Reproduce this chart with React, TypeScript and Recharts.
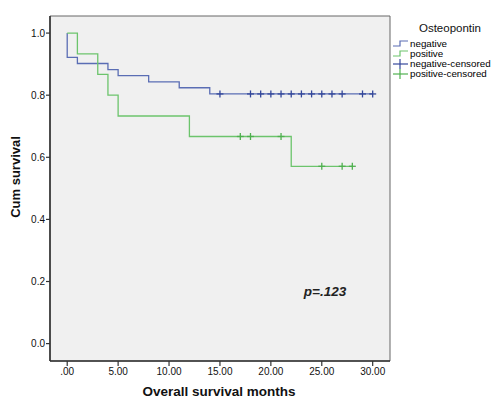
import {
  ComposedChart,
  Line,
  Scatter,
  XAxis,
  YAxis,
  ReferenceArea,
} from "recharts";

// Kaplan-Meier steps (time in months, cumulative survival)
const negTimes = [0, 0, 1, 4, 5, 8, 11, 14, 30];
const negSurv = [1, 0.922, 0.902, 0.882, 0.863, 0.843, 0.824, 0.804, 0.804];
const posTimes = [0, 1, 3, 4, 5, 12, 22, 28];
const posSurv = [1, 0.933, 0.867, 0.8, 0.733, 0.667, 0.571, 0.571];

// censored observations
const negCensTimes = [15, 18, 19, 20, 21, 22, 23, 24, 25, 26, 27, 29, 30];
const negCensSurv = [0.804, 0.804, 0.804, 0.804, 0.804, 0.804, 0.804, 0.804, 0.804, 0.804, 0.804, 0.804, 0.804];
const posCensTimes = [17, 18, 21, 25, 27, 28];
const posCensSurv = [0.667, 0.667, 0.667, 0.571, 0.571, 0.571];

const xTicks = [0, 5, 10, 15, 20, 25, 30];
const yTicks = [0, 0.2, 0.4, 0.6, 0.8, 1.0];
const legendLabels = ["negative", "positive", "negative-censored", "positive-censored"];

const X_DOMAIN: [number, number] = [-1.69, 31.7];
const Y_DOMAIN: [number, number] = [-0.056, 1.055];

const BLUE = "#5a6db4";
const BLUE_DARK = "#34479a";
const GREEN = "#6cc46c";
const GREEN_DARK = "#4fb04f";

const zip = (t: number[], s: number[]) => t.map((v, i) => ({ t: v, s: s[i] }));

const negData = zip(negTimes, negSurv);
const posData = zip(posTimes, posSurv);
const negCens = zip(negCensTimes, negCensSurv);
const posCens = zip(posCensTimes, posCensSurv);

const font = "'Liberation Sans', Arial, sans-serif";

function plusShape(color: string) {
  return (props: any) => {
    const { cx, cy } = props;
    return (
      <g stroke={color} strokeWidth={1.3}>
        <line x1={cx} x2={cx} y1={cy - 3.5} y2={cy + 3.5} />
        <line x1={cx - 3.5} x2={cx + 3.5} y1={cy} y2={cy} />
      </g>
    );
  };
}

const fmtX = (v: number) => (v === 0 ? ".00" : v.toFixed(2));
const fmtY = (v: number) => v.toFixed(1);

function LegendIcon({ color, step }: { color: string; step: boolean }) {
  return (
    <svg width={17} height={10} style={{ display: "block" }}>
      {step ? (
        <polyline points="1,7 8,7 8,2 16,2" fill="none" stroke={color} strokeWidth={1.2} />
      ) : (
        <g stroke={color} strokeWidth={1.2}>
          <line x1={1} x2={16} y1={5} y2={5} />
          <line x1={8} x2={8} y1={0} y2={10} />
        </g>
      )}
    </svg>
  );
}

export default function App() {
  const legendColors = [BLUE, GREEN, BLUE_DARK, GREEN_DARK];
  return (
    <div style={{ position: "absolute", left: 0, top: 0, width: 500, height: 416, background: "#fff", fontFamily: font }}>
      <ComposedChart width={500} height={416} margin={{ top: 16, right: 110, bottom: 25, left: 0 }}>
        <ReferenceArea
          x1={X_DOMAIN[0]}
          x2={X_DOMAIN[1]}
          y1={Y_DOMAIN[0]}
          y2={Y_DOMAIN[1]}
          fill="#f0f0f0"
          fillOpacity={1}
          stroke="#666"
          strokeWidth={1}
        />
        <XAxis
          type="number"
          dataKey="t"
          domain={X_DOMAIN}
          allowDataOverflow
          ticks={xTicks}
          tickFormatter={fmtX}
          height={30}
          tickSize={5}
          tickMargin={2}
          axisLine={{ stroke: "#333", strokeWidth: 1.6 }}
          tickLine={{ stroke: "#333", strokeWidth: 1.2 }}
          tick={{ fontSize: 10, fill: "#111", fontFamily: font }}
        />
        <YAxis
          type="number"
          dataKey="s"
          domain={Y_DOMAIN}
          allowDataOverflow
          ticks={yTicks}
          tickFormatter={fmtY}
          width={50}
          tickSize={4}
          tickMargin={1}
          axisLine={{ stroke: "#333", strokeWidth: 1.6 }}
          tickLine={{ stroke: "#333", strokeWidth: 1.2 }}
          tick={{ fontSize: 10, fill: "#111", fontFamily: font }}
        />
        <Line data={negData} dataKey="s" type="stepAfter" stroke={BLUE} strokeWidth={1.3} dot={false} isAnimationActive={false} />
        <Line data={posData} dataKey="s" type="stepAfter" stroke={GREEN} strokeWidth={1.3} dot={false} isAnimationActive={false} />
        <Scatter data={negCens} dataKey="s" shape={plusShape(BLUE_DARK)} isAnimationActive={false} />
        <Scatter data={posCens} dataKey="s" shape={plusShape(GREEN_DARK)} isAnimationActive={false} />
      </ComposedChart>

      <div
        style={{
          position: "absolute",
          left: 15,
          top: 177,
          transform: "translate(-50%, -50%) rotate(-90deg)",
          whiteSpace: "nowrap",
          fontWeight: "bold",
          fontSize: 13,
          color: "#111",
        }}
      >
        Cum survival
      </div>
      <div
        style={{
          position: "absolute",
          left: 219,
          top: 391,
          transform: "translate(-50%, -50%)",
          whiteSpace: "nowrap",
          fontWeight: "bold",
          fontSize: 13.5,
          color: "#111",
        }}
      >
        Overall survival months
      </div>
      <div
        style={{
          position: "absolute",
          left: 325,
          top: 291,
          transform: "translate(-50%, -50%)",
          whiteSpace: "nowrap",
          fontWeight: "bold",
          fontStyle: "italic",
          fontSize: 13.5,
          color: "#222",
        }}
      >
        p=.123
      </div>

      <div style={{ position: "absolute", left: 392, top: 20, width: 108 }}>
        <div style={{ textAlign: "center", fontSize: 11.5, color: "#111", height: 16, lineHeight: "16px", marginLeft: 8 }}>
          Osteopontin
        </div>
        <div style={{ marginTop: 3 }}>
          {legendLabels.map((label, i) => (
            <div key={label} style={{ display: "flex", alignItems: "center", height: 10, fontSize: 9.8, color: "#000", lineHeight: "10px" }}>
              <LegendIcon color={legendColors[i]} step={i < 2} />
              <span style={{ marginLeft: 1 }}>{label}</span>
            </div>
          ))}
        </div>
      </div>
    </div>
  );
}
